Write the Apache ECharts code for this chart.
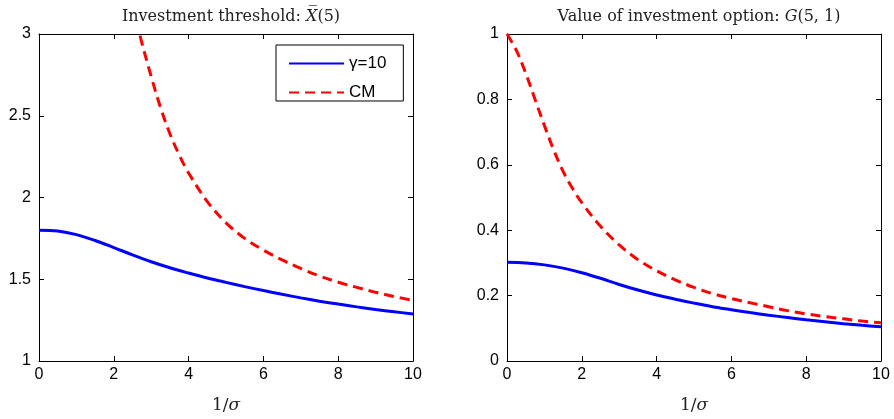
<!DOCTYPE html>
<html>
<head>
<meta charset="utf-8">
<script src="https://cdn.jsdelivr.net/npm/echarts@6/dist/echarts.min.js"></script>
<style>
  html, body { margin: 0; padding: 0; background: #fff; }
  #chart { width: 894px; height: 419px; }
</style>
</head>
<body>
<div id="chart"></div>
<script>
// Investment threshold X(5) against 1/sigma
const thresholdGamma = [
  [0, 1.80], [0.5, 1.795], [1, 1.773], [1.5, 1.737], [2, 1.694], [2.5, 1.649],
  [3, 1.607], [3.5, 1.57], [4, 1.538], [4.5, 1.508], [5, 1.481], [5.5, 1.455],
  [6, 1.431], [6.5, 1.408], [7, 1.386], [7.5, 1.366], [8, 1.348], [8.5, 1.331],
  [9, 1.315], [9.5, 1.301], [10, 1.288]
];
const thresholdCM = [
  [2.5, 3.18], [2.7, 2.99], [3, 2.74], [3.25, 2.55], [3.5, 2.39], [3.75, 2.26],
  [4, 2.15], [4.5, 1.975], [5, 1.845], [5.5, 1.75], [6, 1.678], [6.5, 1.618],
  [7, 1.566], [7.5, 1.52], [8, 1.482], [8.5, 1.45], [9, 1.42], [9.5, 1.394], [10, 1.37]
];
// Value of the investment option G(5,1) against 1/sigma
const optionGamma = [
  [0, 0.302], [0.5, 0.3], [1, 0.294], [1.5, 0.284], [2, 0.27], [2.5, 0.253],
  [3, 0.234], [3.5, 0.217], [4, 0.202], [4.5, 0.189], [5, 0.177], [5.5, 0.166],
  [6, 0.157], [6.5, 0.148], [7, 0.140], [7.5, 0.133], [8, 0.126], [8.5, 0.12],
  [9, 0.114], [9.5, 0.109], [10, 0.105]
];
const optionCM = [
  [0, 1.0], [0.25, 0.95], [0.5, 0.88], [0.75, 0.80], [1, 0.72], [1.25, 0.645],
  [1.5, 0.58], [1.75, 0.528], [2, 0.484], [2.5, 0.412], [3, 0.355], [3.5, 0.31],
  [4, 0.276], [4.5, 0.248], [5, 0.225], [5.5, 0.206], [6, 0.191], [6.5, 0.178],
  [7, 0.166], [7.5, 0.154], [8, 0.144], [8.5, 0.136], [9, 0.129], [9.5, 0.122], [10, 0.117]
];
const seriesNames = ['γ=10', 'CM'];
const xTicks = { min: 0, max: 10, interval: 2 };
const leftY = { min: 1, max: 3, interval: 0.5 };
const rightY = { min: 0, max: 1, interval: 0.2 };

const chart = echarts.init(document.getElementById('chart'));
const sansFont = 'Liberation Sans, Arial, sans-serif';
const serifFont = 'DejaVu Serif, serif';

const gridLeft = { left: 39, top: 34, width: 374, height: 329 };
const gridRight = { left: 507, top: 34, width: 374, height: 329 };

function xAxisPair(gridIndex) {
  const base = {
    type: 'value', gridIndex, min: xTicks.min, max: xTicks.max, interval: xTicks.interval,
    splitLine: { show: false },
    axisLine: { show: true, onZero: false, lineStyle: { color: '#000', width: 1 } },
    axisTick: { show: true, inside: true, length: 5, lineStyle: { color: '#000' } }
  };
  return [
    Object.assign({}, base, {
      position: 'bottom',
      axisLabel: { color: '#000', fontSize: 16, fontFamily: sansFont, margin: 6 },
      name: '{n|1/}{i|σ}', nameLocation: 'middle', nameGap: 36,
      nameTextStyle: {
        rich: {
          n: { fontFamily: serifFont, fontSize: 17, color: '#222' },
          i: { fontFamily: serifFont, fontSize: 17, fontStyle: 'italic', color: '#222' }
        }
      }
    }),
    Object.assign({}, base, { position: 'top', axisLabel: { show: false } })
  ];
}
function yAxisPair(gridIndex, range, fmt) {
  const base = {
    type: 'value', gridIndex, min: range.min, max: range.max, interval: range.interval,
    splitLine: { show: false },
    axisLine: { show: true, onZero: false, lineStyle: { color: '#000', width: 1 } },
    axisTick: { show: true, inside: true, length: 5, lineStyle: { color: '#000' } }
  };
  return [
    Object.assign({}, base, {
      position: 'left',
      axisLabel: { color: '#000', fontSize: 16, fontFamily: sansFont, margin: 8, formatter: fmt }
    }),
    Object.assign({}, base, { position: 'right', axisLabel: { show: false } })
  ];
}
const fmt = v => String(Math.round(v * 10) / 10);

function lineSeries(name, data, xIdx, yIdx, color, dashed) {
  return {
    name, type: 'line', data, xAxisIndex: xIdx, yAxisIndex: yIdx,
    smooth: 0.35, symbol: 'none', clip: true, animation: false,
    lineStyle: { color, width: 3, type: dashed ? [10, 6] : 'solid' },
    itemStyle: { color }
  };
}

const titleRich = {
  t: { fontFamily: serifFont, fontSize: 16, fontWeight: 'normal', color: '#222' },
  i: { fontFamily: serifFont, fontSize: 16, fontWeight: 'normal', fontStyle: 'italic', color: '#222' }
};

chart.setOption({
  backgroundColor: '#fff',
  animation: false,
  title: [
    { text: '{t|Investment threshold: }{i|X̅}{t|(5)}', left: 226, top: 4, textAlign: 'center',
      textStyle: { fontWeight: 'normal', rich: titleRich } },
    { text: '{t|Value of investment option: }{i|G}{t|(5, 1)}', left: 694, top: 4, textAlign: 'center',
      textStyle: { fontWeight: 'normal', rich: titleRich } }
  ],
  legend: {
    data: seriesNames,
    orient: 'vertical',
    left: 276, top: 45,
    itemWidth: 55, itemHeight: 12, itemGap: 12,
    padding: [10, 17, 0, 12],
    borderColor: '#000', borderWidth: 1, borderRadius: 0,
    backgroundColor: '#fff',
    itemStyle: { opacity: 0 },
    textStyle: { fontSize: 17, fontFamily: sansFont, color: '#000' },
    selectedMode: false
  },
  grid: [gridLeft, gridRight],
  xAxis: [...xAxisPair(0), ...xAxisPair(1)],
  yAxis: [...yAxisPair(0, leftY, fmt), ...yAxisPair(1, rightY, fmt)],
  series: [
    lineSeries(seriesNames[0], thresholdGamma, 0, 0, '#0000ff', false),
    lineSeries(seriesNames[1], thresholdCM, 0, 0, '#ff0000', true),
    lineSeries(seriesNames[0], optionGamma, 2, 2, '#0000ff', false),
    lineSeries(seriesNames[1], optionCM, 2, 2, '#ff0000', true)
  ]
});
</script>
</body>
</html>
